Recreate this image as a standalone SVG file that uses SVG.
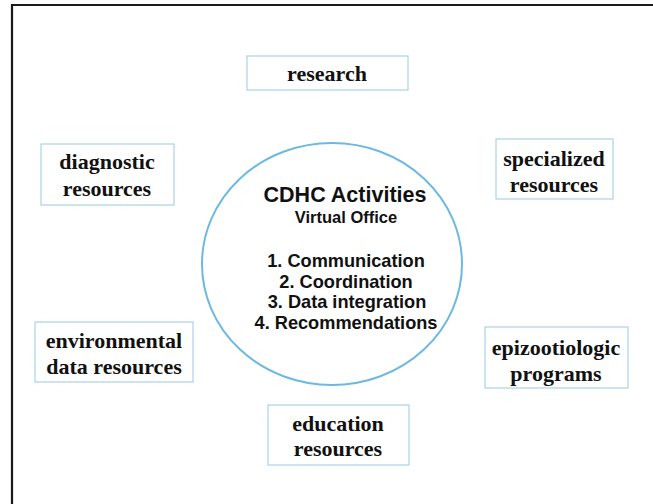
<svg xmlns="http://www.w3.org/2000/svg" width="653" height="504" viewBox="0 0 653 504">
  <style>
    .box { fill: #ffffff; stroke: #a9d3e6; stroke-width: 1.2; }
    .lbl { font-family: "Liberation Serif", "Times New Roman", serif; font-weight: bold; font-size: 22px; fill: #111; text-anchor: middle; }
    .hub { font-family: "Liberation Sans", Arial, sans-serif; font-weight: bold; fill: #111; text-anchor: middle; }
  </style>
  <rect width="653" height="504" fill="#ffffff"/>
  <!-- frame -->
  <path d="M12 504 V5 H653" fill="none" stroke="#1a1a1a" stroke-width="2.2"/>

  <g id="hub">
    <ellipse cx="332" cy="264" rx="130" ry="121" fill="#ffffff" stroke="#6cb9e2" stroke-width="2"/>
    <text class="hub" x="345" y="202" font-size="21.5">CDHC Activities</text>
    <text class="hub" x="346" y="223" font-size="16.5">Virtual Office</text>
    <text class="hub" x="346" y="267" font-size="18.2">1. Communication</text>
    <text class="hub" x="346" y="288" font-size="18.2">2. Coordination</text>
    <text class="hub" x="347" y="308" font-size="18.2">3. Data integration</text>
    <text class="hub" x="346" y="329" font-size="18.2">4. Recommendations</text>
  </g>

  <g id="research">
    <rect class="box" x="247" y="56" width="161" height="34"/>
    <text class="lbl" x="327" y="81">research</text>
  </g>

  <g id="diagnostic">
    <rect class="box" x="41" y="144" width="133" height="61"/>
    <text class="lbl" x="107" y="169">diagnostic</text>
    <text class="lbl" x="107" y="196">resources</text>
  </g>

  <g id="specialized">
    <rect class="box" x="496" y="139" width="117" height="60"/>
    <text class="lbl" x="554" y="166">specialized</text>
    <text class="lbl" x="554" y="192">resources</text>
  </g>

  <g id="environmental">
    <rect class="box" x="35" y="322" width="158" height="60"/>
    <text class="lbl" x="114" y="348">environmental</text>
    <text class="lbl" x="114" y="374">data resources</text>
  </g>

  <g id="epizootiologic">
    <rect class="box" x="485" y="327" width="143" height="61"/>
    <text class="lbl" x="556" y="355">epizootiologic</text>
    <text class="lbl" x="556" y="381">programs</text>
  </g>

  <g id="education">
    <rect class="box" x="268" y="405" width="141" height="60"/>
    <text class="lbl" x="338" y="431">education</text>
    <text class="lbl" x="338" y="456">resources</text>
  </g>

  <g id="connectors"></g>
</svg>
